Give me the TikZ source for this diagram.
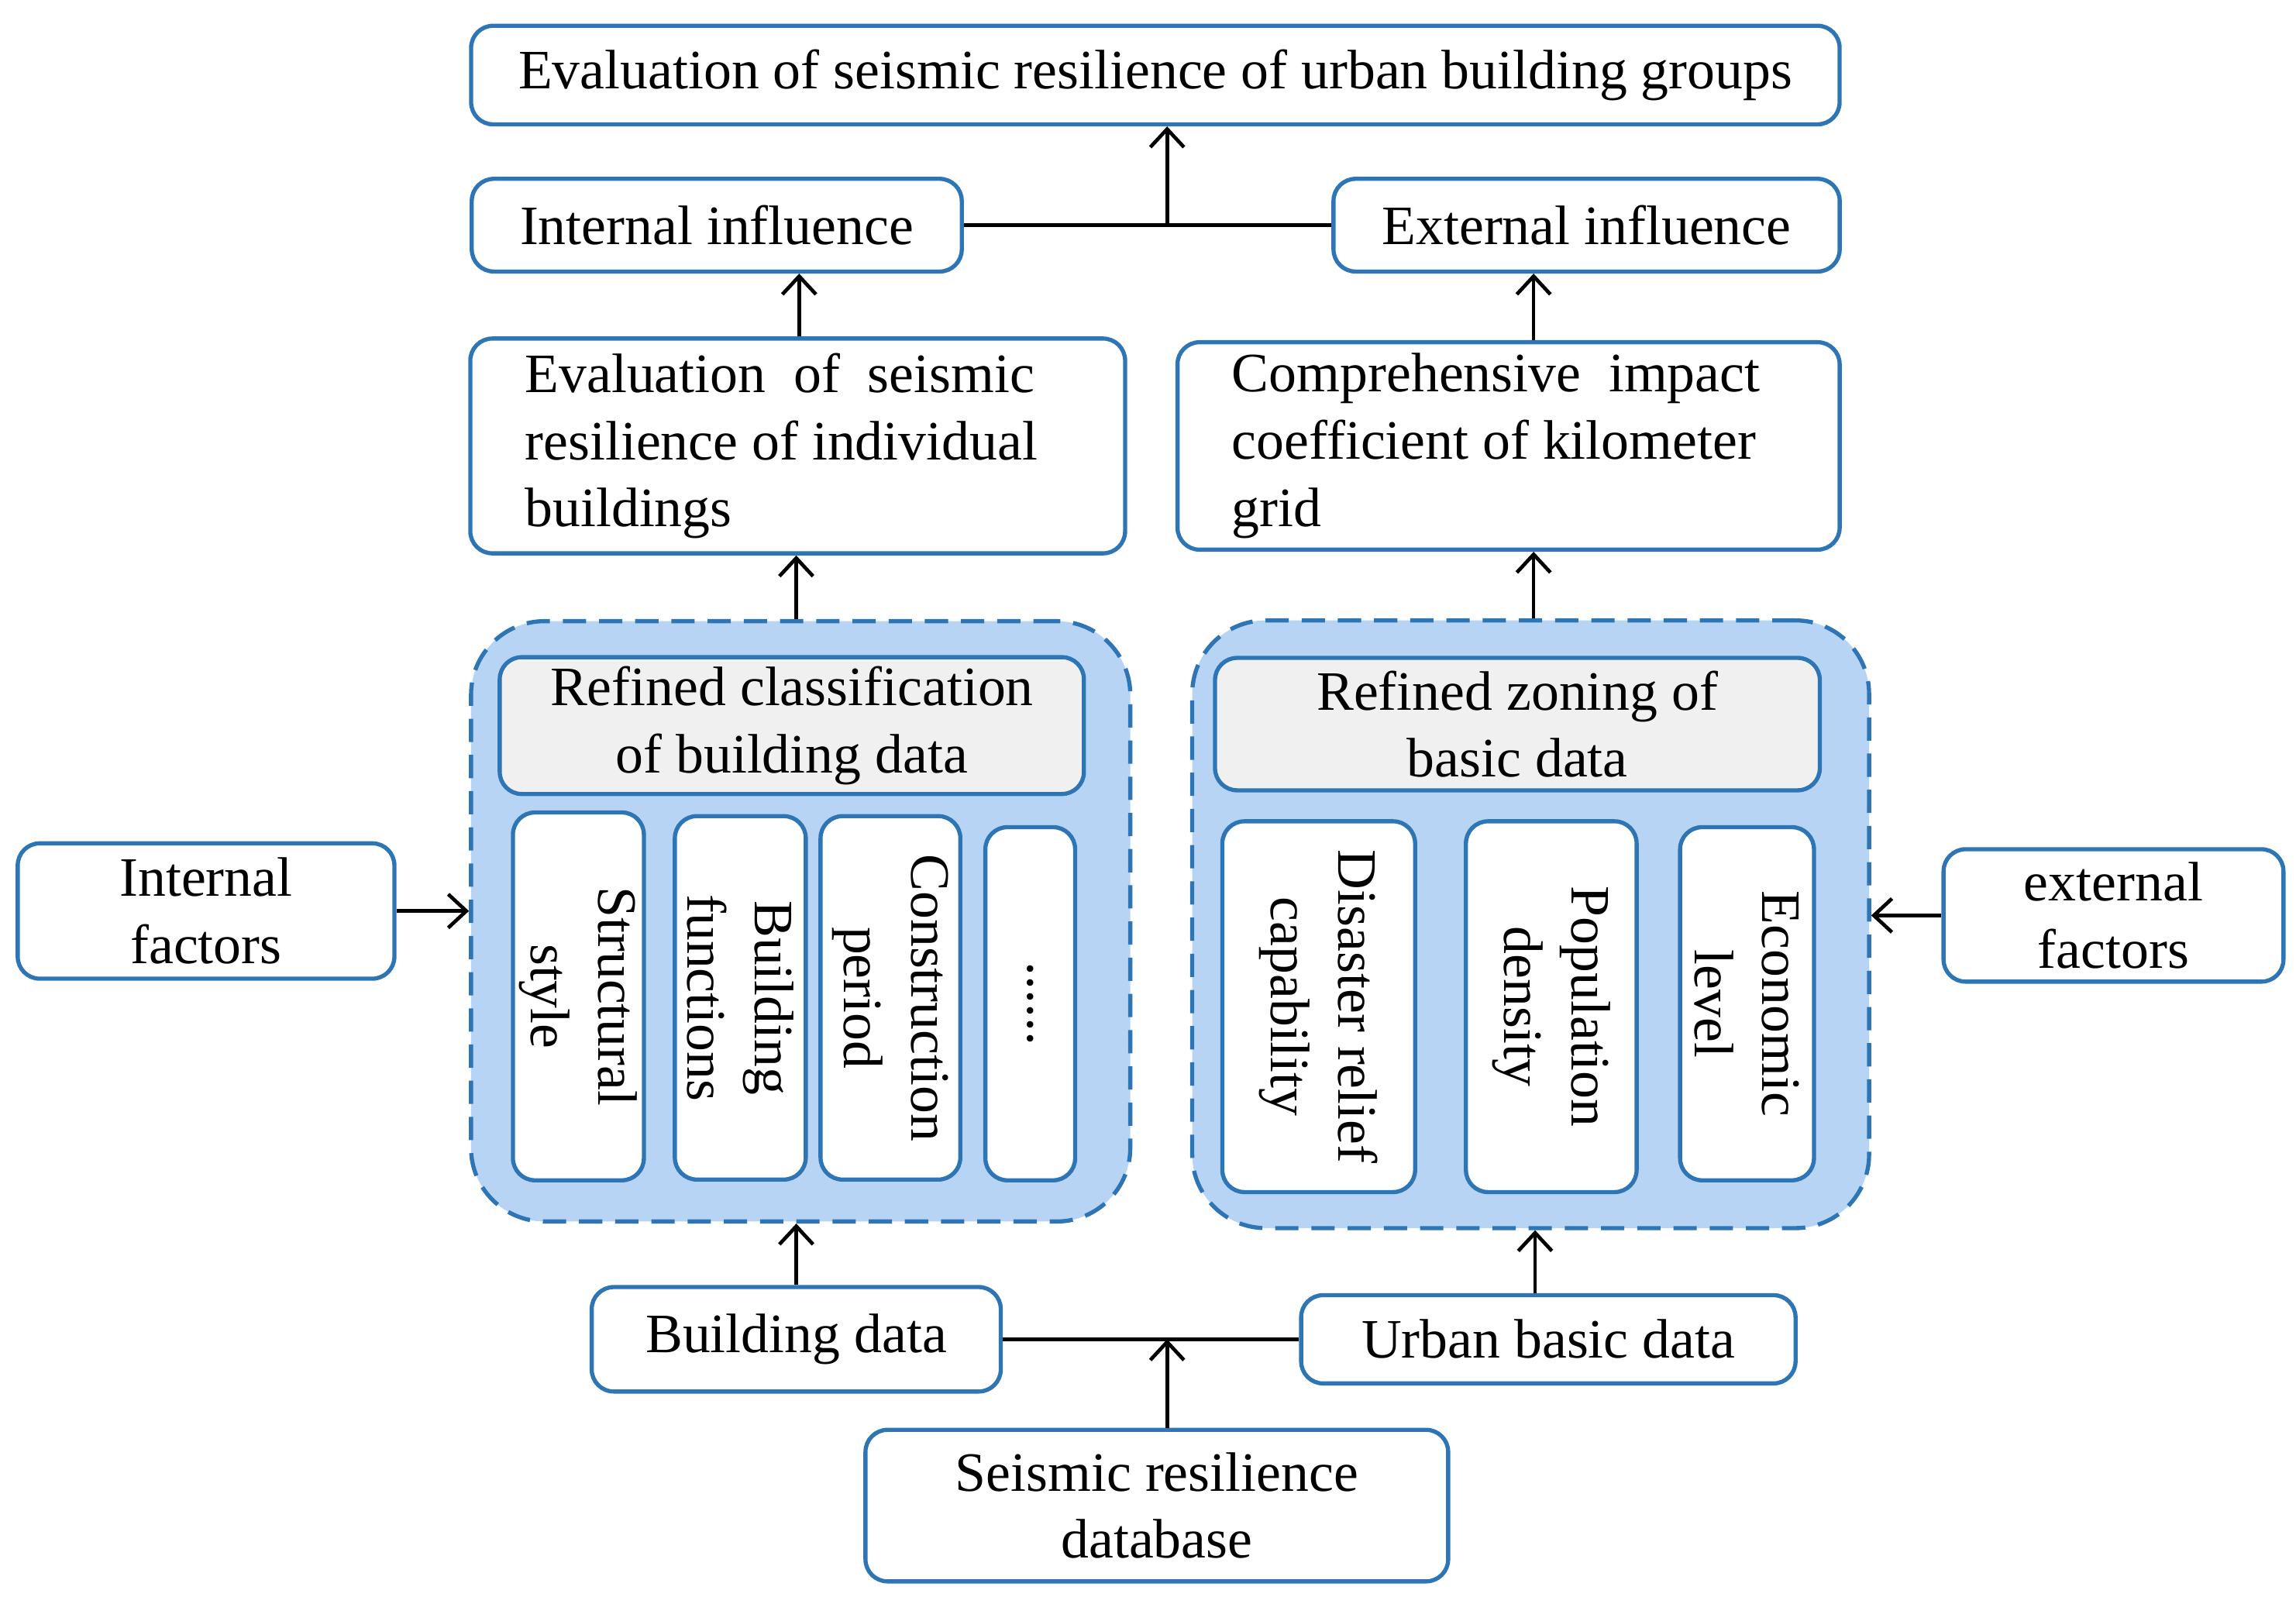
\documentclass[tikz,border=0pt]{standalone}
\usepackage{fontspec}
\setmainfont{Liberation Serif}
\usetikzlibrary{arrows.meta}
\definecolor{bblue}{RGB}{46,117,182}
\definecolor{gfill}{RGB}{184,212,245}
\definecolor{hgray}{RGB}{240,240,240}
\begin{document}
\begin{tikzpicture}[x=0.02cm, y=-0.02cm, >={Straight Barb[length=7pt,width=13pt]}]
		\tikzstyle{box} = [draw=bblue, line width=1.6pt, rounded corners=0.3cm, fill=white, inner sep=0pt, align=center, font=\fontsize{21.5}{26}\selectfont]
		\tikzstyle{grp} = [draw=bblue, line width=1.6pt, dashed, dash pattern=on 9pt off 5pt, rounded corners=1cm, fill=gfill, inner sep=0pt]
		\tikzstyle{head} = [box, fill=hgray]
		\tikzstyle{vbox} = [box, rotate=-90]
		\tikzstyle{arr} = [->, line width=1.4pt]
		\tikzstyle{line} = [line width=1.4pt]

		\useasboundingbox (0,0) rectangle (1560,1085);

		% top part
		\node[box, minimum width=18.6cm, minimum height=1.34cm] (top) at (785,51) {Evaluation of seismic resilience of urban building groups};
		\node[box, minimum width=6.66cm, minimum height=1.26cm] (intin) at (487,153) {Internal influence};
		\node[box, minimum width=6.88cm, minimum height=1.26cm] (extin) at (1078,153) {External influence};
		\node[box, minimum width=8.9cm, minimum height=2.92cm, align=left] (evali) at (542,303) {Evaluation\ \ of\ \ seismic\\resilience of individual\\buildings\hspace*{4.6cm}};
		\node[box, minimum width=9cm, minimum height=2.82cm, align=left] (comp) at (1025,303) {Comprehensive\ \ impact\\coefficient of kilometer\\grid\hspace*{6.3cm}};

		% groups
		\node[grp, minimum width=8.96cm, minimum height=8.16cm] (lgrp) at (544,626) {};
		\node[grp, minimum width=9.2cm, minimum height=8.26cm] (rgrp) at (1040,628) {};
		\node[head, minimum width=7.94cm, minimum height=1.86cm] (lhead) at (538,493) {Refined classification\\of building data};
		\node[head, minimum width=8.22cm, minimum height=1.8cm] (rhead) at (1031,492) {Refined zoning of\\basic data};

		\node[vbox, minimum width=5cm, minimum height=1.78cm] (struc) at (393,677) {Structural\\style};
		\node[vbox, minimum width=4.94cm, minimum height=1.78cm] (func) at (503,678) {Building\\functions};
		\node[vbox, minimum width=4.94cm, minimum height=1.9cm] (period) at (605,678) {Construction\\period};
		\node[vbox, minimum width=4.8cm, minimum height=1.22cm] (dots) at (700,682) {......};
		\node[vbox, minimum width=5.04cm, minimum height=2.62cm] (relief) at (896,684) {Disaster relief\\capability};
		\node[vbox, minimum width=5.04cm, minimum height=2.32cm] (popul) at (1054,684) {Population\\density};
		\node[vbox, minimum width=4.8cm, minimum height=1.82cm] (econ) at (1187,682) {Economic\\level};

		% factors
		\node[box, minimum width=5.12cm, minimum height=1.84cm] (intf) at (140,619) {Internal\\factors};
		\node[box, minimum width=4.62cm, minimum height=1.8cm] (extf) at (1436,622) {external\\factors};

		% data
		\node[box, minimum width=5.56cm, minimum height=1.42cm] (bdata) at (541,910) {Building data};
		\node[box, minimum width=6.72cm, minimum height=1.2cm] (udata) at (1052,910) {Urban basic data};
		\node[box, minimum width=7.92cm, minimum height=2.06cm] (db) at (786,1023) {Seismic resilience\\database};

		\coordinate (jtop) at (793,153);
		\coordinate (jbot) at (793,910);

		% connectors
		\draw[line] (intin.east) -- (extin.west);
		\draw[arr] (jtop) -- (jtop |- top.south);
		\draw[arr] (evali.north -| 543,0) -- (543,0 |- intin.south);
		\draw[arr] (comp.north -| 1042,0) -- (1042,0 |- extin.south);
		\draw[arr] (lgrp.north -| 541,0) -- (541,0 |- evali.south);
		\draw[arr] (rgrp.north -| 1042,0) -- (1042,0 |- comp.south);
		\draw[arr] (intf.east) -- (intf.east -| lgrp.west);
		\draw[arr] (extf.west) -- (extf.west -| rgrp.east);
		\draw[arr] (bdata.north) -- (bdata.north |- lgrp.south);
		\draw[arr] (udata.north -| 1043,0) -- (1043,0 |- rgrp.south);
		\draw[line] (bdata.east) -- (udata.west);
		\draw[arr] (db.north -| jbot) -- (jbot);
\end{tikzpicture}
\end{document}
